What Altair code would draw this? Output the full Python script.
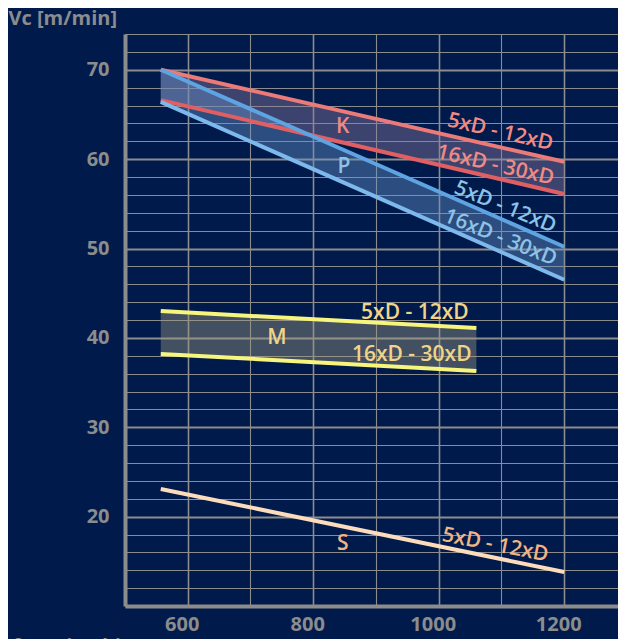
import altair as alt
import pandas as pd

# ---- data ----
x_start = 557
x_end_long = 1200
x_end_m = 1060

K_upper = [70.0, 59.7]   # 5xD - 12xD
K_lower = [66.6, 56.1]   # 16xD - 30xD
P_upper = [70.0, 50.2]
P_lower = [66.4, 46.5]
M_upper = [43.0, 41.1]
M_lower = [38.2, 36.3]
S_line = [23.1, 13.8]

line_names = ["K1", "K2", "P1", "P2", "M1", "M2", "S1"]
line_vals = [K_upper, K_lower, P_upper, P_lower, M_upper, M_lower, S_line]
line_xend = [x_end_long, x_end_long, x_end_long, x_end_long, x_end_m, x_end_m, x_end_long]
line_colors = ["#ec7a78", "#e05f62", "#5ea4e2", "#7db9ec", "#f8f57c", "#f8f57c", "#fddcbc"]

band_names = ["K", "P", "M"]
band_upper = [K_upper, P_upper, M_upper]
band_lower = [K_lower, P_lower, M_lower]
band_xend = [x_end_long, x_end_long, x_end_m]
band_fill = ["#8c7ca0", "#6a94c8", "#a09c80"]

lab_text = ["K", "P", "M", "S",
            "5xD - 12xD", "16xD - 30xD", "5xD - 12xD", "16xD - 30xD",
            "5xD - 12xD", "16xD - 30xD", "5xD - 12xD"]
lab_x = [847, 849, 742, 847, 1098, 1090, 1106, 1098, 962, 957, 1090]
lab_y = [63.6, 59.1, 40.0, 16.9, 63.0, 59.3, 54.6, 51.2, 42.8, 38.1, 16.8]
lab_angle = [0, 0, 0, 0, 13, 13, 22, 22, 0, 0, 11]
lab_color = ["#ee8a84", "#8cc3e6", "#f0d488", "#f2b482",
             "#f28a84", "#f28a84", "#8cc3e6", "#8cc3e6",
             "#f0d488", "#f0d488", "#f2b482"]

x_grid = [500, 600, 700, 800, 900, 1000, 1100, 1200]
y_grid = list(range(10, 76, 2))

# ---- tables ----
rows = []
for n, v, xe, c in zip(line_names, line_vals, line_xend, line_colors):
    rows.append({"s": n, "x": x_start, "y": v[0], "c": c})
    rows.append({"s": n, "x": xe, "y": v[1], "c": c})
lines_df = pd.DataFrame(rows)

brows = []
for n, u, l, xe, f in zip(band_names, band_upper, band_lower, band_xend, band_fill):
    brows.append({"b": n, "x": x_start, "y": u[0], "y2": l[0], "f": f})
    brows.append({"b": n, "x": xe, "y": u[1], "y2": l[1], "f": f})
bands_df = pd.DataFrame(brows)

labels_df = pd.DataFrame({"t": lab_text, "x": lab_x, "y": lab_y,
                          "a": lab_angle, "c": lab_color})

FONT = "Open Sans"
GRID = "#8c8c8c"

xscale = alt.Scale(domain=[500, 1285.7], nice=False, zero=False)
yscale = alt.Scale(domain=[10, 74], nice=False, zero=False)

xaxis = alt.Axis(
    values=x_grid, tickCount=50, format="d",
    labelExpr="datum.value % 200 === 0 && datum.value >= 600 ? datum.label : ''",
    labelOverlap=False,
    grid=True, gridColor=GRID,
    gridWidth={"condition": {"test": "datum.value % 200 === 0", "value": 1.6}, "value": 1.1},
    domainColor=GRID, domainWidth=4, ticks=False,
    labelFont=FONT, labelFontSize=20, labelFontWeight="bold", labelColor="#8c8c8c",
    labelPadding=8, labelOffset=-6, labelFlush=False,
    title="f cutting bit / rev", titleFont=FONT, titleFontSize=20, titleFontWeight="bold",
    titleColor="#8c8c8c", titleAnchor="start", titleAlign="left", titleBaseline="top",
    titleX=-113, titleY=30,
)
yaxis = alt.Axis(
    values=y_grid, tickCount=50,
    labelExpr="datum.value % 10 === 0 && datum.value >= 20 ? datum.label : ''",
    labelOverlap=False,
    grid=True, gridColor=GRID,
    gridWidth={"condition": {"test": "datum.value % 10 === 0", "value": 1.8}, "value": 1.1},
    domainColor=GRID, domainWidth=4, ticks=False,
    labelFont=FONT, labelFontSize=20, labelFontWeight="bold", labelColor="#8c8c8c",
    labelPadding=16, labelFlush=False,
    title="Vc [m/min]", titleFont=FONT, titleFontSize=20, titleFontWeight="bold",
    titleColor="#8c8c8c", titleAngle=0, titleAnchor="start", titleAlign="left",
    titleBaseline="alphabetic", titleX=-117, titleY=-10,
)

areas = alt.Chart(bands_df).mark_area(opacity=0.42).encode(
    x=alt.X("x:Q", scale=xscale, axis=xaxis),
    y=alt.Y("y:Q", scale=yscale, axis=yaxis),
    y2="y2:Q",
    color=alt.Color("f:N", scale=None),
    detail="b:N",
)

lines = alt.Chart(lines_df).mark_line(strokeWidth=4, strokeCap="butt").encode(
    x=alt.X("x:Q", scale=xscale),
    y=alt.Y("y:Q", scale=yscale),
    color=alt.Color("c:N", scale=None),
    detail="s:N",
)

texts = alt.Chart(labels_df).mark_text(
    font=FONT, fontSize=21, fontWeight=600, align="center", baseline="middle"
).encode(
    x=alt.X("x:Q", scale=xscale),
    y=alt.Y("y:Q", scale=yscale),
    text="t:N",
    angle=alt.Angle("a:Q", scale=None),
    color=alt.Color("c:N", scale=None),
)

chart = alt.layer(areas, lines, texts).properties(
    width=493, height=572,
    background="#001b4b",
    autosize=alt.AutoSizeParams(type="none"),
    padding={"left": 117, "top": 26, "right": 0, "bottom": 45},
).configure_view(stroke=None)

chart.save("out.html", embed_options={"renderer": "svg", "actions": False})
